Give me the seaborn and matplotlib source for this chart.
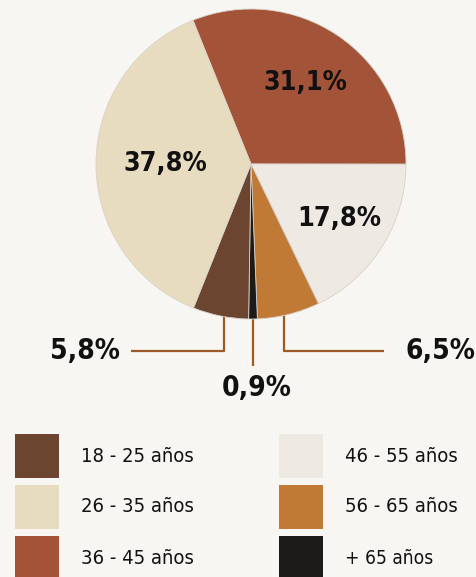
import numpy as np
import matplotlib
matplotlib.use("Agg")
import matplotlib.pyplot as plt
from matplotlib.patches import Rectangle
import seaborn as sns

# ---- data ----
categories = ["18 - 25 años", "26 - 35 años", "36 - 45 años",
              "46 - 55 años", "56 - 65 años", "+ 65 años"]
values = [5.8, 37.8, 31.1, 17.8, 6.5, 0.9]
pct_labels = ["5,8%", "37,8%", "31,1%", "17,8%", "6,5%", "0,9%"]
colors = ["#6b4530", "#e7dcc0", "#a35438", "#efe9e3", "#c07a35", "#1c1b19"]
# order of wedges clockwise from top-left
pie_order = [2, 3, 4, 5, 0, 1]

BG = "#f8f6f2"
LINE = "#9b5a26"
TXT = "#111111"

sns.set_theme(style="white")
plt.rcParams["font.family"] = ["DejaVu Sans"]
STRETCH = "condensed"

W, H = 477, 577
fig = plt.figure(figsize=(W / 100, H / 100), dpi=100, facecolor=BG)
renderer = fig.canvas.get_renderer()

def fit_text(t, target_w, max_size):
    """shrink font so the text width matches the reference width"""
    t.set_fontsize(max_size)
    w = t.get_window_extent(renderer).width
    if w > target_w:
        t.set_fontsize(max_size * target_w / w)

# overlay axes in pixel coords (top-left origin)
ov = fig.add_axes([0, 0, 1, 1], facecolor="none")
ov.set_xlim(0, W)
ov.set_ylim(H, 0)
ov.axis("off")

# pie axes
cx, cy, R = 251, 164, 155
ax = fig.add_axes([(cx - R) / W, 1 - (cy + R) / H, 2 * R / W, 2 * R / H])
ax.set_facecolor("none")
vals = [values[i] for i in pie_order]
cols = [colors[i] for i in pie_order]
wedges, _ = ax.pie(vals, colors=cols, startangle=112, counterclock=False,
                   radius=1.0, wedgeprops=dict(edgecolor="#d8d2c8", linewidth=0.6))
ax.set_xlim(-1, 1)
ax.set_ylim(-1, 1)
ax.set_aspect("equal")
ax.axis("off")

def mid_angle(w):
    return np.deg2rad((w.theta1 + w.theta2) / 2)

# inside labels (36-45, 46-55, 26-35)
inside = {2: 0.63, 3: 0.67, 1: 0.55}
for k, i in enumerate(pie_order):
    w = wedges[k]
    a = mid_angle(w)
    if i in inside:
        d = inside[i]
        t = ax.text(d * np.cos(a), d * np.sin(a), pct_labels[i], ha="center", va="center",
                    fontweight="bold", fontstretch=STRETCH, color=TXT)
        fit_text(t, 84, 25)

# outside labels with leader lines
out_cfg = {0: ("left", 131, 85, 351), 5: ("down", 366, 257, 388), 4: ("right", 384, 440, 351)}
for k, i in enumerate(pie_order):
    if i not in out_cfg:
        continue
    w = wedges[k]
    a = mid_angle(w)
    sx = cx + 0.87 * R * np.cos(a)
    sy = cy - 0.87 * R * np.sin(a)
    kind, end, tx, ty = out_cfg[i]
    if kind == "down":
        ov.plot([sx, sx], [sy, end], color=LINE, lw=1.6, solid_capstyle="butt")
    else:
        ov.plot([sx, sx, end], [sy, ty, ty], color=LINE, lw=1.6, solid_capstyle="butt")
    t = ov.text(tx, ty, pct_labels[i], ha="center", va="center",
                fontweight="bold", fontstretch=STRETCH, color=TXT)
    fit_text(t, 70, 26)

# legend
for i, lab in enumerate(categories):
    col, row = i // 3, i % 3
    x0 = 15 + col * 264
    y0 = 434 + row * 51
    ov.add_patch(Rectangle((x0, y0), 44, 44, facecolor=colors[i], edgecolor="none"))
    t = ov.text(x0 + 66, y0 + 22, lab, ha="left", va="center", fontstretch=STRETCH,
                color=TXT)
    fit_text(t, 113 if not lab.startswith("+") else 88, 17)

fig.savefig("out.png", dpi=100, facecolor=BG)
